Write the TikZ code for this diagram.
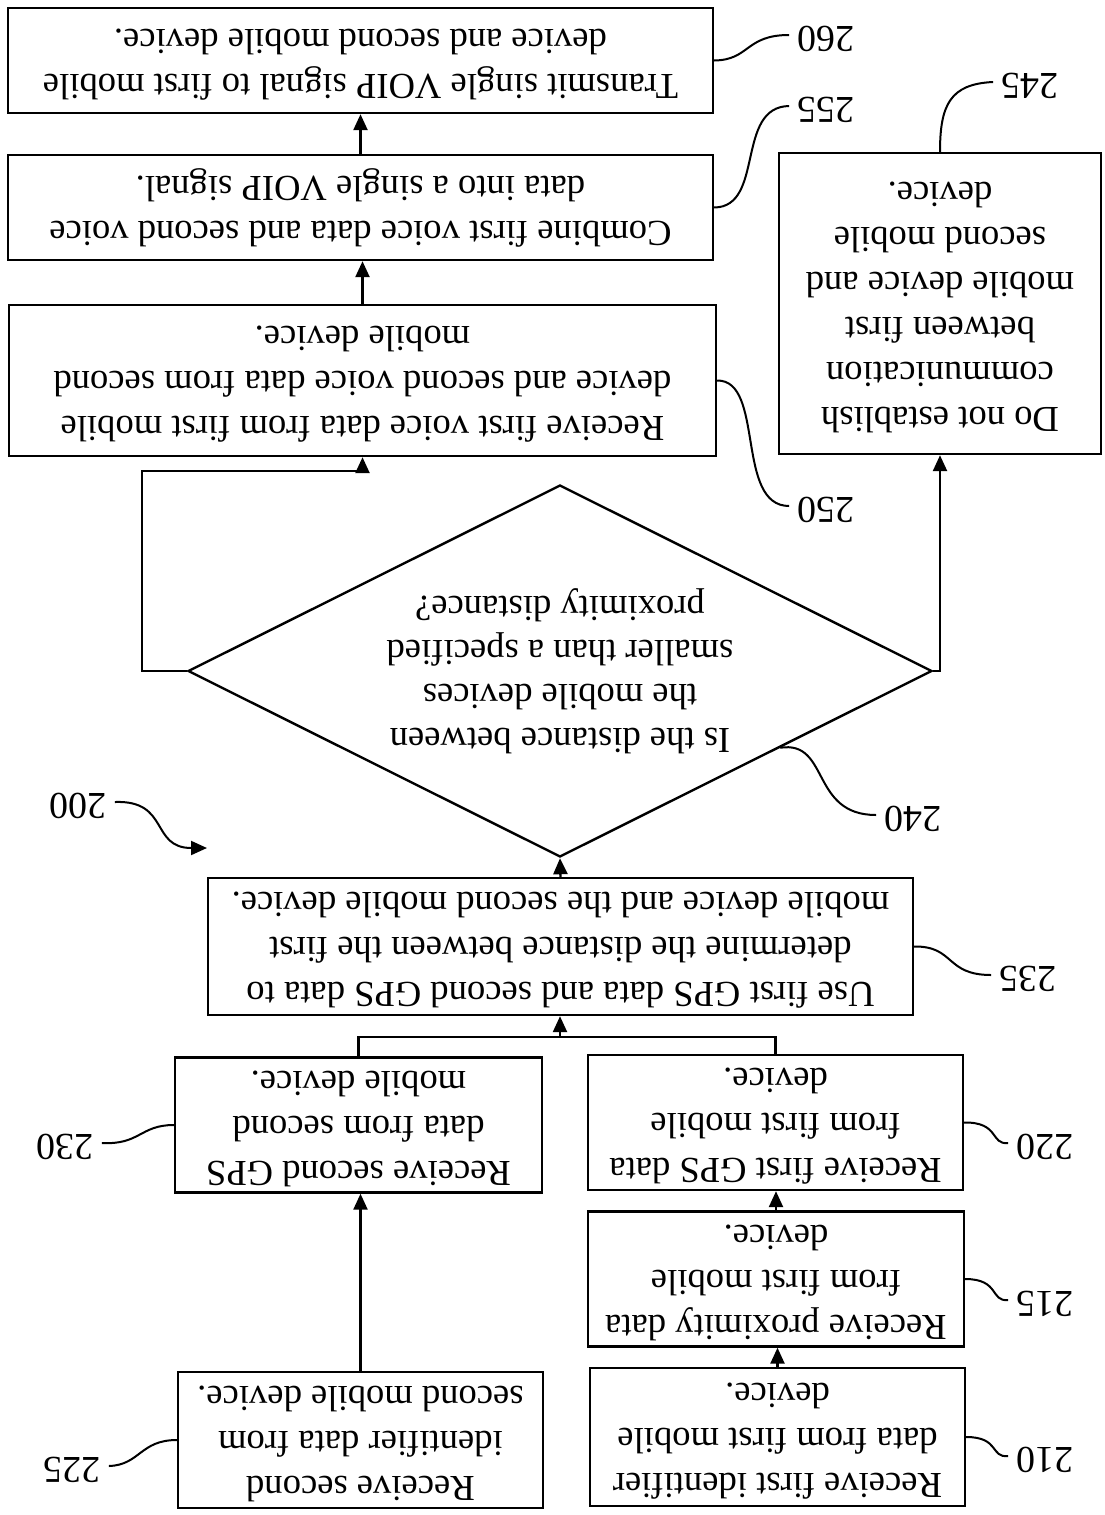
\documentclass[tikz,border=0pt]{standalone}
\usepackage{fontspec}
\setmainfont{Liberation Serif}
\usepackage{graphicx}
\usetikzlibrary{arrows.meta,shapes.geometric,calc}
\newcommand{\updown}[1]{\rotatebox[origin=c]{180}{\begin{tabular}{@{}c@{}}#1\end{tabular}}}
\begin{document}
\begin{tikzpicture}[x=0.5pt,y=-0.5pt,
  box/.style={draw,line width=1.2pt,inner sep=0pt,font=\fontsize{18.3}{22.5}\selectfont},
  dia/.style={draw,diamond,line width=1.2pt,inner sep=0pt,aspect=2,font=\fontsize{18.3}{22}\selectfont},
  lab/.style={inner sep=4pt,font=\fontsize{19}{22}\selectfont},
  arr/.style={line width=1.2pt,-{Triangle[length=8pt,width=7pt]}},
  lead/.style={line width=1pt}]
\fill[white] (0,0) rectangle (1104,1515);
\useasboundingbox (0,0) rectangle (1104,1515);

% boxes
\node[box,minimum width=352.5pt,minimum height=52.5pt] (n260) at (360.5,60.5)
  {\updown{Transmit single VOIP signal to first mobile\\device and second mobile device.}};
\node[box,minimum width=352.5pt,minimum height=52.5pt] (n255) at (360.5,207.5)
  {\updown{Combine first voice data and second voice\\data into a single VOIP signal.}};
\node[box,minimum width=353.5pt,minimum height=75.5pt] (n250) at (362.5,380.5)
  {\updown{Receive first voice data from first mobile\\device and second voice data from second\\mobile device.}};
\node[box,minimum width=161pt,minimum height=150.5pt] (n245) at (940,303.5)
  {\updown{Do not establish\\communication\\between first\\mobile device and\\second mobile\\device.}};
\node[dia,minimum width=372pt,minimum height=186pt] (d240) at (560,671)
  {\updown{Is the distance between\\the mobile devices\\smaller than a specified\\proximity distance?}};
\node[box,minimum width=352.5pt,minimum height=68.5pt] (n235) at (560.5,946.5)
  {\updown{Use first GPS data and second GPS data to\\determine the distance between the first\\mobile device and the second mobile device.}};
\node[box,minimum width=187.5pt,minimum height=67.5pt] (n220) at (775.5,1122.5)
  {\updown{Receive first GPS data\\from first mobile\\device.}};
\node[box,minimum width=183.5pt,minimum height=67pt] (n230) at (358.5,1125)
  {\updown{Receive second GPS\\data from second\\mobile device.}};
\node[box,minimum width=188pt,minimum height=67pt] (n215) at (776,1279)
  {\updown{Receive proximity data\\from first mobile\\device.}};
\node[box,minimum width=187.5pt,minimum height=69pt] (n210) at (777.5,1437)
  {\updown{Receive first identifier\\data from first mobile\\device.}};
\node[box,minimum width=182.5pt,minimum height=68pt] (n225) at (360.5,1440)
  {\updown{Receive second\\identifier data from\\second mobile device.}};

% labels
\node[lab] (l260) at (826,35) {\updown{260}};
\node[lab] (l255) at (826,106) {\updown{255}};
\node[lab] (l245) at (1030,82) {\updown{245}};
\node[lab] (l250) at (826,506) {\updown{250}};
\node[lab] (l240) at (913,815) {\updown{240}};
\node[lab] (l200) at (78,802) {\updown{200}};
\node[lab] (l235) at (1028,975) {\updown{235}};
\node[lab] (l220) at (1045,1143) {\updown{220}};
\node[lab] (l230) at (65,1143) {\updown{230}};
\node[lab] (l215) at (1045,1300) {\updown{215}};
\node[lab] (l210) at (1045,1456) {\updown{210}};
\node[lab] (l225) at (72,1466) {\updown{225}};

% coordinates
\coordinate (join) at (560,1037);
\coordinate (loopL) at (142,471);
\coordinate (p240) at ($(d240.east)!0.41!(d240.south)$);
\coordinate (a200) at (207,848);

% connectors
\draw[arr] (n210.north) -- (n210.north |- n215.south);
\draw[arr] (n215.north) -- (n215.north |- n220.south);
\draw[arr] (n225.north) -- (n225.north |- n230.south);
\draw[line width=1.2pt] (n220.north) |- (join);
\draw[line width=1.2pt] (n230.north) |- (join);
\draw[arr] (join) -- (join |- n235.south);
\draw[arr] (n235.north) -- (d240.south);
\draw[arr] (d240.west) -| (loopL) -- (loopL -| n250.south) -- (n250.south);
\draw[arr] (d240.east) -- (d240.east -| n245.south) -- (n245.south);
\draw[arr] (n250.north) -- (n250.north |- n255.south);
\draw[arr] (n255.north) -- (n255.north |- n260.south);

% leaders
\draw[lead] (n260.east) .. controls (750,60) and (745,35) .. (l260.west);
\draw[lead] (n255.east) .. controls (765,207) and (735,107) .. (l255.west);
\draw[lead] (n245.north) .. controls (940,105) and (950,84) .. (l245.west);
\draw[lead] (n250.east) .. controls (765,380) and (735,506) .. (l250.west);
\draw[lead] (p240) .. controls (830,740) and (810,815) .. (l240.west);
\draw[lead] (n235.east) .. controls (955,946) and (945,975) .. (l235.west);
\draw[lead] (n220.east) .. controls (1000,1122) and (990,1145) .. (l220.west);
\draw[lead] (n215.east) .. controls (1000,1279) and (990,1302) .. (l215.west);
\draw[lead] (n210.east) .. controls (1000,1437) and (990,1458) .. (l210.west);
\draw[lead] (n230.west) .. controls (140,1125) and (140,1145) .. (l230.east);
\draw[lead] (n225.west) .. controls (140,1440) and (140,1465) .. (l225.east);
\draw[lead,-{Triangle[length=8pt,width=7pt]}] (l200.east) .. controls (170,800) and (150,848) .. (a200);
\end{tikzpicture}
\end{document}
